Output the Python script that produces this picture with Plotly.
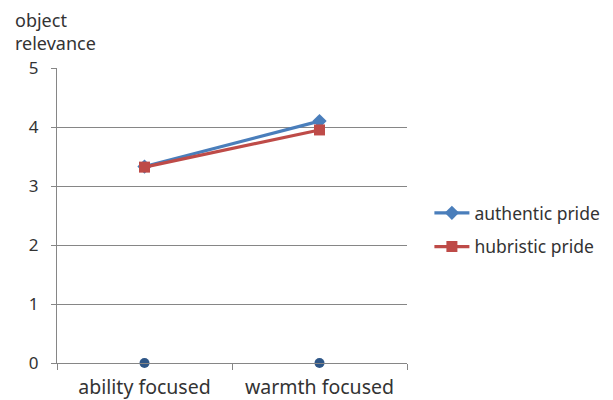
import plotly.graph_objects as go

categories = ["ability focused", "warmth focused"]
authentic = [3.33, 4.10]
hubristic = [3.32, 3.95]
baseline = [0, 0]
y_ticks = [0, 1, 2, 3, 4, 5]

FONT = "Noto Sans"
fig = go.Figure()
fig.add_trace(go.Scatter(x=categories, y=baseline, mode="markers", showlegend=False,
                         cliponaxis=False,
                         marker=dict(symbol="circle", size=10, color="#2e5687",
                                     line=dict(width=0)), hoverinfo="skip"))
fig.add_trace(go.Scatter(x=categories, y=authentic, mode="lines+markers", name="authentic pride",
                         legendgroup="a",
                         line=dict(color="#4a7ebb", width=3.2),
                         marker=dict(symbol="diamond", size=11, color="#4a7ebb")))
fig.add_trace(go.Scatter(x=categories, y=hubristic, mode="lines+markers", name="hubristic pride",
                         legendgroup="b",
                         line=dict(color="#be4b48", width=3.2),
                         marker=dict(symbol="square", size=11, color="#be4b48")))

fig.update_layout(
    width=605, height=392,
    margin=dict(l=49, r=206, t=60, b=37, autoexpand=False),
    paper_bgcolor="white", plot_bgcolor="white",
    font=dict(family=FONT, size=16, color="#333333"),
    legend=dict(x=1.064, y=0.451, xanchor="left", yanchor="middle",
                font=dict(size=17.5), tracegroupgap=8, itemwidth=35),
    xaxis=dict(type="category", tickson="boundaries", ticks="outside", ticklen=6,
               tickcolor="#868686", showline=True, linecolor="#868686", linewidth=1,
               showgrid=False, range=[-0.5, 1.5], tickfont=dict(size=19.5),
               ticklabelstandoff=7),
    yaxis=dict(range=[0, 5], tickvals=y_ticks, ticks="outside", ticklen=5,
               tickcolor="#868686", showline=True, linecolor="#868686", linewidth=1,
               showgrid=True, gridcolor="#868686", gridwidth=1, zeroline=False,
               tickfont=dict(size=17), ticklabelstandoff=9),
    annotations=[dict(text="object<br>relevance", xref="paper", yref="paper",
                      x=-0.1257, y=1.0, xanchor="left", yanchor="bottom", yshift=11,
                      showarrow=False, align="left", font=dict(size=18, color="#333333"))],
)
fig.write_html("out.html")
